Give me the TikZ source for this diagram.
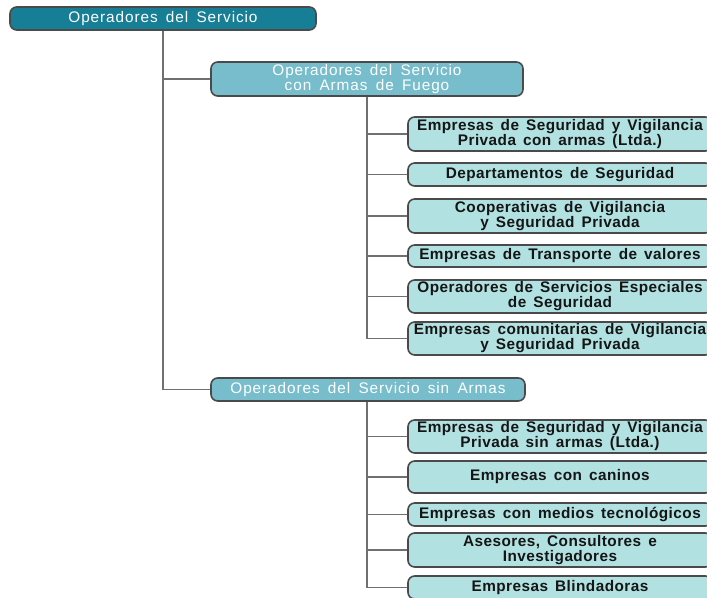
\documentclass[tikz,border=0pt]{standalone}
\usepackage{fontspec}
\setmainfont{Liberation Sans}
\newfontfamily\widereg[LetterSpace=6,WordSpace=1.6]{Liberation Sans}
\newfontfamily\widebold[LetterSpace=3,WordSpace=1.5]{Liberation Sans Bold}
\definecolor{rootfill}{HTML}{167F96}
\definecolor{midfill}{HTML}{77BDCB}
\definecolor{leaffill}{HTML}{B2E1E1}
\definecolor{edge}{HTML}{4A4A4A}
\definecolor{wire}{HTML}{707070}
\definecolor{ink}{HTML}{151515}
\begin{document}
\begin{tikzpicture}[x=0.75pt,y=-0.75pt,
  box/.style={draw=edge,line width=1.2pt,rounded corners=5pt,inner sep=0pt,align=center,
    font=\widereg\fontsize{11.5}{11.3}\selectfont},
  rootbox/.style={box,fill=rootfill,text=white,minimum width=306*0.75pt,minimum height=23*0.75pt},
  midbox/.style={box,fill=midfill,text=white,minimum width=312*0.75pt},
  leafbox/.style={box,fill=leaffill,text=ink,minimum width=304*0.75pt,
    font=\widebold\fontsize{11.5}{11.3}\selectfont},
  wirestyle/.style={draw=wire,line width=1.2pt}]
\useasboundingbox (0,0) rectangle (707,598);
\clip (0,0) rectangle (707,598);
\fill[white] (0,0) rectangle (707,598);
\node[rootbox] (root) at (163,18.5) {Operadores del Servicio};
\node[midbox,minimum height=34*0.75pt] (c1) at (367,79) {Operadores del Servicio\\con Armas de Fuego};
\node[midbox,minimum height=23*0.75pt,minimum width=314*0.75pt] (c2) at (368,389.5) {Operadores del Servicio sin Armas};
\node[leafbox,minimum height=34*0.75pt] (l1) at (560,134) {Empresas de Seguridad y Vigilancia\\Privada con armas (Ltda.)};
\node[leafbox,minimum height=23*0.75pt] (l2) at (560,174.5) {Departamentos de Seguridad};
\node[leafbox,minimum height=34*0.75pt] (l3) at (560,216) {Cooperativas de Vigilancia\\y Seguridad Privada};
\node[leafbox,minimum height=22*0.75pt] (l4) at (560,256) {Empresas de Transporte de valores};
\node[leafbox,minimum height=33*0.75pt] (l5) at (560,296.5) {Operadores de Servicios Especiales\\de Seguridad};
\node[leafbox,minimum height=33*0.75pt] (l6) at (560,338.5) {Empresas comunitarias de Vigilancia\\y Seguridad Privada};
\node[leafbox,minimum height=33*0.75pt] (l7) at (560,436.5) {Empresas de Seguridad y Vigilancia\\Privada sin armas (Ltda.)};
\node[leafbox,minimum height=32*0.75pt] (l8) at (560,477) {Empresas con caninos};
\node[leafbox,minimum height=23*0.75pt] (l9) at (560,514.5) {Empresas con medios tecnológicos};
\node[leafbox,minimum height=34*0.75pt] (l10) at (560,550) {Asesores, Consultores e\\Investigadores};
\node[leafbox,minimum height=23*0.75pt] (l11) at (560,587.5) {Empresas Blindadoras};
\path[wirestyle] (root.south) |- (c1.west);
\path[wirestyle] (root.south) |- (c2.west);
\foreach \l in {l1,l2,l3,l4,l5,l6} \path[wirestyle] (c1.south) |- (\l.west);
\foreach \l in {l7,l8,l9,l10,l11} \path[wirestyle] ([xshift=-0.75pt]c2.south) |- (\l.west);
\end{tikzpicture}
\end{document}
